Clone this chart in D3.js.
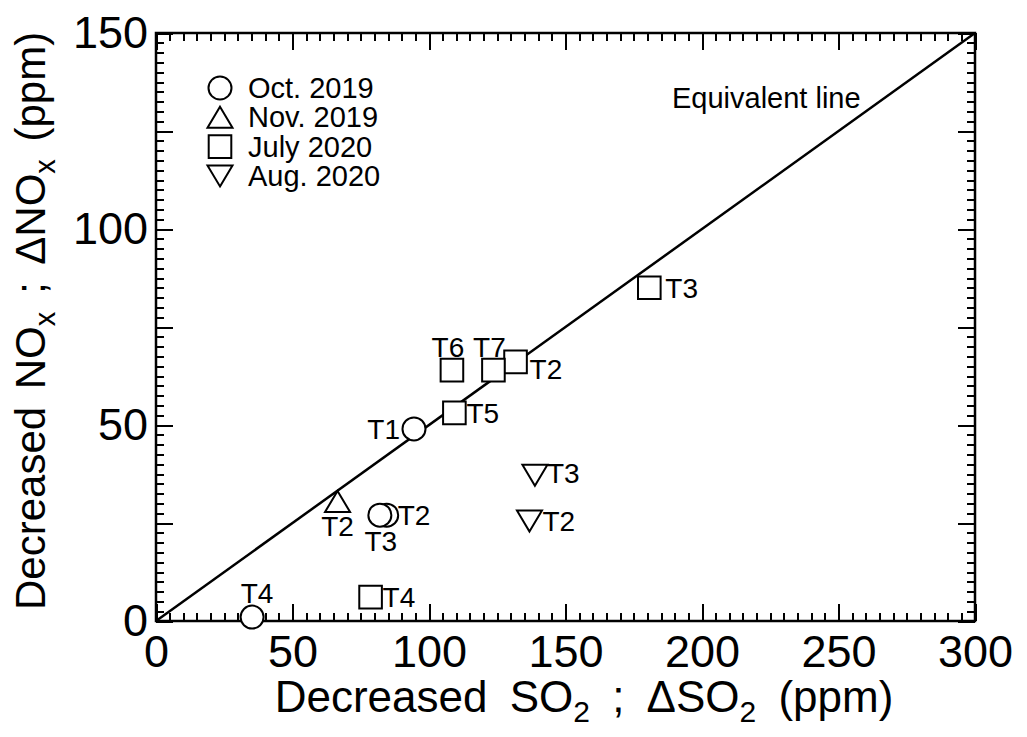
<!DOCTYPE html>
<html>
<head>
<meta charset="utf-8">
<script src="https://cdn.jsdelivr.net/npm/d3@7"></script>
<style>
  body { margin: 0; background: #fff; }
  text { font-family: "Liberation Sans", Arial, sans-serif; fill: #000; }
</style>
</head>
<body>
<svg id="chart" width="1027" height="737"></svg>
<script>
// data
var seriesNames = ["Oct. 2019", "Nov. 2019", "July 2020", "Aug. 2020"];
var seriesShapes = ["circle", "triangle", "square", "triangleDown"];

var octSO2 = [94.5, 84.5, 82, 35.2];
var octNOx = [49, 27, 27, 1];
var octSites = ["T1", "T2", "T3", "T4"];

var novSO2 = [66.5];
var novNOx = [30.5];
var novSites = ["T2"];

var julSO2 = [180.7, 108.4, 131.7, 123.6, 109.3, 78.6];
var julNOx = [85, 64, 66.1, 64, 53.1, 6.1];
var julSites = ["T3", "T6", "T2", "T7", "T5", "T4"];

var augSO2 = [138.8, 136.8];
var augNOx = [37.2, 25.5];
var augSites = ["T3", "T2"];

var xTicks = [0, 50, 100, 150, 200, 250, 300];
var yTicks = [0, 50, 100, 150];
var equivalentLine = [[0, 0], [300, 150]];

// where each site label sits next to its marker: [dx, dy, anchor]
var labelPos = {
	"Oct. 2019|T1": [-14, 10, "end"],
	"Oct. 2019|T2": [11, 10, "start"],
	"Oct. 2019|T3": [1, 36, "middle"],
	"Oct. 2019|T4": [5, -14, "middle"],
	"Nov. 2019|T2": [0, 35, "middle"],
	"July 2020|T3": [16, 10, "start"],
	"July 2020|T6": [-4, -13, "middle"],
	"July 2020|T7": [-4, -13, "middle"],
	"July 2020|T2": [14, 17, "start"],
	"July 2020|T5": [12, 10, "start"],
	"July 2020|T4": [12, 10, "start"],
	"Aug. 2020|T3": [12, 8, "start"],
	"Aug. 2020|T2": [13, 10, "start"]
};

var seriesData = [
	{name: seriesNames[0], shape: seriesShapes[0], x: octSO2, y: octNOx, sites: octSites},
	{name: seriesNames[1], shape: seriesShapes[1], x: novSO2, y: novNOx, sites: novSites},
	{name: seriesNames[2], shape: seriesShapes[2], x: julSO2, y: julNOx, sites: julSites},
	{name: seriesNames[3], shape: seriesShapes[3], x: augSO2, y: augNOx, sites: augSites}
];

var svg = d3.select("#chart");
var plotL = 156, plotR = 975, plotT = 33, plotB = 621;

var x = d3.scaleLinear().domain([0, 300]).range([plotL, plotR]);
var y = d3.scaleLinear().domain([0, 150]).range([plotB, plotT]);

// marker paths, centred on their box
function markerPath(shape) {
	if (shape == "square") {
		var s = 11.3;
		return "M" + (-s) + "," + (-s) + "H" + s + "V" + s + "H" + (-s) + "Z";
	}
	if (shape == "triangle") {
		return "M0,-10.5L12.5,10.5L-12.5,10.5Z";
	}
	if (shape == "triangleDown") {
		return "M0,10.5L12.5,-10.5L-12.5,-10.5Z";
	}
	return null;
}

function drawMarker(g, shape, cx, cy) {
	if (shape == "circle") {
		g.append("circle")
			.attr("cx", cx)
			.attr("cy", cy)
			.attr("r", 11.5)
			.attr("fill", "#fff")
			.attr("stroke", "#000")
			.attr("stroke-width", 2);
	} else {
		g.append("path")
			.attr("d", markerPath(shape))
			.attr("transform", "translate(" + cx + "," + cy + ")")
			.attr("fill", "#fff")
			.attr("stroke", "#000")
			.attr("stroke-width", 2)
			.attr("stroke-linejoin", "miter");
	}
}

// ticks: majors and minors, inside, on all four sides
function tickAxis(axisFn, scale, values, size, labels, pad) {
	return axisFn(scale)
		.tickValues(values)
		.tickSizeInner(-size)
		.tickSizeOuter(0)
		.tickPadding(pad || 0)
		.tickFormat(labels ? function(d) { return labels.indexOf(d) >= 0 ? d : ""; } : function() { return ""; });
}

var xMinor = d3.range(0, 301, 5);
var xMajor = d3.range(0, 301, 50);
var yMinor = d3.range(0, 150.1, 2.5);
var yMajor = d3.range(0, 151, 25);

var axes = svg.append("g").attr("class", "axes");

axes.append("g").attr("transform", "translate(0," + plotB + ")")
	.call(tickAxis(d3.axisBottom, x, xMinor, 8));
axes.append("g").attr("transform", "translate(0," + plotB + ")")
	.call(tickAxis(d3.axisBottom, x, xMajor, 17, xTicks, 14));
axes.append("g").attr("transform", "translate(0," + plotT + ")")
	.call(tickAxis(d3.axisTop, x, xMinor, 8));
axes.append("g").attr("transform", "translate(0," + plotT + ")")
	.call(tickAxis(d3.axisTop, x, xMajor, 17));

axes.append("g").attr("transform", "translate(" + plotL + ",0)")
	.call(tickAxis(d3.axisLeft, y, yMinor, 8));
axes.append("g").attr("transform", "translate(" + plotL + ",0)")
	.call(tickAxis(d3.axisLeft, y, yMajor, 17, yTicks, 8));
axes.append("g").attr("transform", "translate(" + plotR + ",0)")
	.call(tickAxis(d3.axisRight, y, yMinor, 8));
axes.append("g").attr("transform", "translate(" + plotR + ",0)")
	.call(tickAxis(d3.axisRight, y, yMajor, 17));

axes.selectAll(".domain").remove();
axes.selectAll(".tick line")
	.attr("stroke", "#000")
	.attr("stroke-width", 2)
	.attr("shape-rendering", "crispEdges");
axes.selectAll(".tick text")
	.attr("font-size", 45)
	.attr("font-family", "'Liberation Sans', Arial, sans-serif")
	.attr("fill", "#000");

// frame
svg.append("rect")
	.attr("x", plotL)
	.attr("y", plotT)
	.attr("width", plotR - plotL)
	.attr("height", plotB - plotT)
	.attr("fill", "none")
	.attr("stroke", "#000")
	.attr("stroke-width", 2.5);

// equivalent line
svg.append("line")
	.attr("x1", x(equivalentLine[0][0]))
	.attr("y1", y(equivalentLine[0][1]))
	.attr("x2", x(equivalentLine[1][0]))
	.attr("y2", y(equivalentLine[1][1]))
	.attr("stroke", "#000")
	.attr("stroke-width", 2.5);

svg.append("text")
	.attr("x", 672)
	.attr("y", 108)
	.attr("font-size", 29)
	.text("Equivalent line");

// points + site labels
var pts = svg.append("g").attr("class", "points");
seriesData.forEach(function(s) {
	for (var i = 0; i < s.x.length; i++) {
		drawMarker(pts, s.shape, x(s.x[i]), y(s.y[i]));
	}
});
seriesData.forEach(function(s) {
	for (var i = 0; i < s.x.length; i++) {
		var p = labelPos[s.name + "|" + s.sites[i]];
		pts.append("text")
			.attr("x", x(s.x[i]) + p[0])
			.attr("y", y(s.y[i]) + p[1])
			.attr("text-anchor", p[2])
			.attr("font-size", 28)
			.text(s.sites[i]);
	}
});

// legend
var legend = svg.append("g").attr("class", "legend");
seriesData.forEach(function(s, i) {
	var ly = 88 + i * 29.3;
	drawMarker(legend, s.shape, 220, ly);
	legend.append("text")
		.attr("x", 248)
		.attr("y", ly + 10)
		.attr("font-size", 29)
		.text(s.name);
});

// axis titles with subscripts
function addTitle(g, parts, subSize, shift) {
	var shifted = false;
	parts.forEach(function(p) {
		var t = g.append("tspan").text(p.t);
		if (p.sub) {
			t.attr("font-size", subSize).attr("dy", shift);
			shifted = true;
		} else if (shifted) {
			t.attr("dy", -shift);
			shifted = false;
		}
	});
}

var xTitle = svg.append("text")
	.attr("x", 584)
	.attr("y", 712)
	.attr("text-anchor", "middle")
	.attr("font-size", 44)
	.attr("word-spacing", 10);
addTitle(xTitle, [{t: "Decreased SO"}, {t: "2", sub: true}, {t: " ; \u0394SO"}, {t: "2", sub: true}, {t: " (ppm)"}], 30, 10);

var yTitle = svg.append("text")
	.attr("transform", "translate(45,610) rotate(-90)")
	.attr("font-size", 42)
	.attr("word-spacing", 6);
addTitle(yTitle, [{t: "Decreased NO"}, {t: "x", sub: true}, {t: " ; \u0394NO"}, {t: "x", sub: true}, {t: " (ppm)"}], 29, 10);
</script>
</body>
</html>
